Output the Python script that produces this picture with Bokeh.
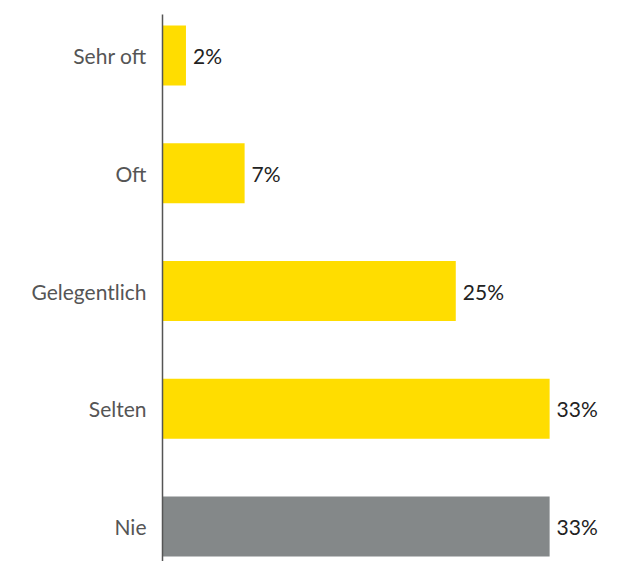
from bokeh.plotting import figure
from bokeh.models import Range1d, FixedTicker, ColumnDataSource, LabelSet
from bokeh.core.properties import value
from bokeh.embed import file_html
from bokeh.resources import INLINE

categories = ["Sehr oft", "Oft", "Gelegentlich", "Selten", "Nie"]
values = [2, 7, 25, 33, 33]
labels = ["2%", "7%", "25%", "33%", "33%"]
colors = ["#FFDD00", "#FFDD00", "#FFDD00", "#FFDD00", "#848889"]

n = len(categories)
ypos = [n - 1 - i for i in range(n)]

src = ColumnDataSource(dict(y=ypos, v=values, lab=labels, c=colors, cat=categories))

p = figure(width=633, height=561, output_backend="svg", toolbar_location=None,
           x_range=Range1d(0, 40.15), y_range=Range1d(-0.297, 4.348),
           min_border_left=162, min_border_right=0, min_border_top=14, min_border_bottom=0)
p.outline_line_color = None
p.grid.visible = False
p.xaxis.visible = False

p.hbar(y="y", right="v", left=0, height=0.51, fill_color="c", line_color=None, source=src)

p.add_layout(LabelSet(x="v", y="y", text="lab", source=src, x_offset=7, y_offset=0,
                      text_baseline="middle", text_align="left", text_font=value("Lato"),
                      text_font_size="21px", text_color="#222222"))

p.yaxis.ticker = FixedTicker(ticks=ypos)
p.yaxis.major_label_overrides = {yy: c for yy, c in zip(ypos, categories)}
p.yaxis.major_tick_line_color = None
p.yaxis.minor_tick_line_color = None
p.yaxis.axis_line_color = "#555555"
p.yaxis.axis_line_width = 1.5
p.yaxis.major_label_text_font = "Lato"
p.yaxis.major_label_text_font_style = "normal"
p.yaxis.major_label_text_font_size = "21px"
p.yaxis.major_label_text_color = "#555555"
p.yaxis.major_label_standoff = 10

open("out.html", "w").write(file_html(p, INLINE))
